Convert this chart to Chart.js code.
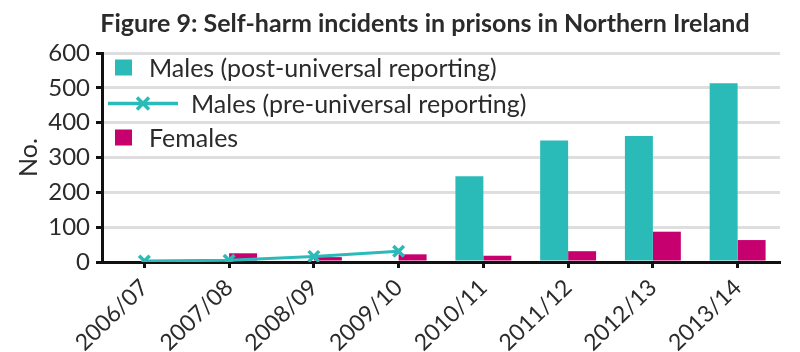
<!DOCTYPE html>
<html>
<head>
<meta charset="utf-8">
<script src="https://cdn.jsdelivr.net/npm/chart.js@4.4.1/dist/chart.umd.min.js"></script>
<style>
  html, body { margin: 0; padding: 0; background: #ffffff; }
  #wrap { width: 800px; height: 352px; }
</style>
</head>
<body>
<div id="wrap"><canvas id="c" width="800" height="352"></canvas></div>
<script>
const categories = ['2006/07', '2007/08', '2008/09', '2009/10', '2010/11', '2011/12', '2012/13', '2013/14'];
const malesPost = [null, null, null, null, 246, 349, 362, 513];
const malesPre = [3, 5, 16, 31, null, null, null, null];
const females = [0, 25, 14, 22, 18, 31, 87, 63];
const yTicks = [0, 100, 200, 300, 400, 500, 600];
const seriesNames = ['Males (post-universal reporting)', 'Males (pre-universal reporting)', 'Females'];
const titleText = 'Figure 9: Self-harm incidents in prisons in Northern Ireland';

const TEAL = '#2abbb9';
const MAGENTA = '#c6006e';
const TEXT = '#2b2b2b';
const FONT = 'Lato, "Open Sans", sans-serif';

const legendPlugin = {
  id: 'insideLegend',
  afterDraw(chart) {
    const ctx = chart.ctx;
    const ca = chart.chartArea;
    const x0 = ca.left;
    const rows = [ca.top + 14.5, ca.top + 50.5, ca.top + 84.5];
    ctx.save();
    ctx.font = '25px ' + FONT;
    ctx.fillStyle = TEXT;
    ctx.textBaseline = 'middle';
    ctx.textAlign = 'left';
    ctx.fillStyle = TEAL;
    ctx.fillRect(x0 + 13, rows[0] - 8, 17, 16);
    ctx.fillStyle = TEXT;
    ctx.fillText(seriesNames[0], x0 + 47, rows[0] + 1);
    ctx.strokeStyle = TEAL;
    ctx.lineWidth = 3.5;
    ctx.beginPath();
    ctx.moveTo(x0 + 6, rows[1]);
    ctx.lineTo(x0 + 76, rows[1]);
    ctx.stroke();
    const cx = x0 + 41, r = 6;
    ctx.beginPath();
    ctx.moveTo(cx - r, rows[1] - r); ctx.lineTo(cx + r, rows[1] + r);
    ctx.moveTo(cx + r, rows[1] - r); ctx.lineTo(cx - r, rows[1] + r);
    ctx.stroke();
    ctx.fillText(seriesNames[1], x0 + 89, rows[1] + 1);
    ctx.fillStyle = MAGENTA;
    ctx.fillRect(x0 + 13, rows[2] - 8, 17, 16);
    ctx.fillStyle = TEXT;
    ctx.fillText(seriesNames[2], x0 + 47, rows[2] + 1);
    ctx.restore();
  }
};

const titleShift = {
  id: 'titleShift',
  afterLayout(chart) {
    const t = chart.titleBlock;
    if (t) { t.left += 35; t.right += 35; }
  }
};

new Chart(document.getElementById('c'), {
  type: 'bar',
  data: {
    labels: categories,
    datasets: [
      {
        type: 'bar',
        label: seriesNames[0],
        data: malesPost,
        backgroundColor: TEAL,
        borderWidth: 0,
        order: 1,
        categoryPercentage: 0.66,
        barPercentage: 1.0
      },
      {
        type: 'line',
        label: seriesNames[1],
        data: malesPre,
        borderColor: TEAL,
        backgroundColor: TEAL,
        borderWidth: 3,
        pointStyle: 'crossRot',
        pointRadius: 7.5,
        pointBorderWidth: 3.5,
        pointBorderColor: TEAL,
        fill: false,
        spanGaps: false,
        order: 0
      },
      {
        type: 'bar',
        label: seriesNames[2],
        data: females,
        backgroundColor: MAGENTA,
        borderWidth: 0,
        order: 1,
        categoryPercentage: 0.66,
        barPercentage: 1.0
      }
    ]
  },
  options: {
    responsive: false,
    devicePixelRatio: 1,
    animation: false,
    layout: { padding: { left: 0, right: 20, top: 0, bottom: 0 } },
    plugins: {
      legend: { display: false },
      tooltip: { enabled: false },
      title: {
        display: true,
        text: titleText,
        color: TEXT,
        font: { family: FONT, size: 25, weight: 'bold' },
        padding: { top: 9, bottom: 14 }
      }
    },
    scales: {
      x: {
        offset: true,
        grid: {
          offset: false,
          drawOnChartArea: false,
          drawTicks: true,
          tickLength: 6,
          tickWidth: 3,
          tickColor: '#111'
        },
        border: { display: true, color: '#111', width: 3 },
        ticks: {
          color: TEXT,
          font: { family: FONT, size: 23 },
          minRotation: 44,
          maxRotation: 44,
          autoSkip: false,
          padding: 6
        },
        afterFit(scale) { scale.height = 90; }
      },
      y: {
        min: 0,
        max: 600,
        afterBuildTicks(scale) { scale.ticks = yTicks.map(v => ({ value: v })); },
        grid: {
          color: '#dedede',
          lineWidth: 3,
          tickColor: '#111',
          tickWidth: 3,
          tickLength: 6,
          drawTicks: true
        },
        border: { display: true, color: '#111', width: 3 },
        ticks: {
          color: TEXT,
          font: { family: FONT, size: 24 },
          padding: 6
        },
        title: {
          display: true,
          text: 'No.',
          color: TEXT,
          font: { family: FONT, size: 25 },
          padding: { top: 14, bottom: 0 }
        },
        afterFit(scale) { scale.width = 102; }
      }
    }
  },
  plugins: [legendPlugin, titleShift]
});
</script>
</body>
</html>
